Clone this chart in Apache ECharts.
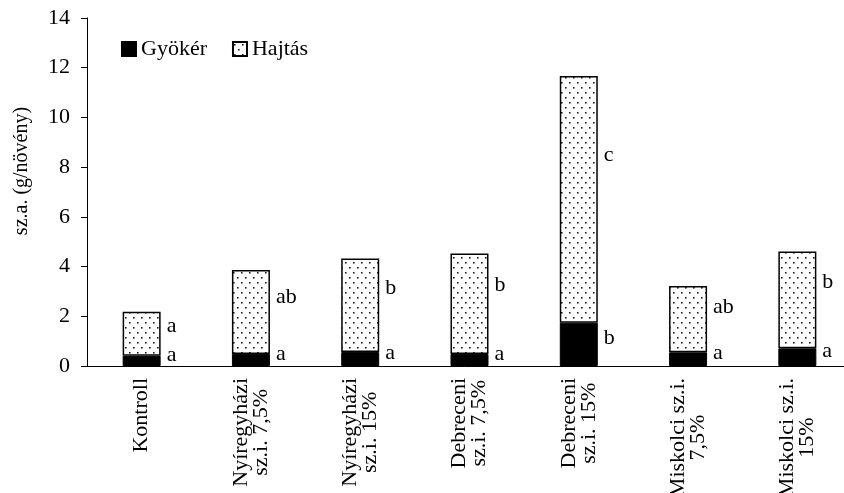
<!DOCTYPE html>
<html>
<head>
<meta charset="utf-8">
<script src="https://cdn.jsdelivr.net/npm/echarts@6/dist/echarts.min.js"></script>
<style>html,body{margin:0;padding:0;background:#fff}#c{width:844px;height:493px}</style>
</head>
<body>
<div id="c"></div>
<script>
const categories = ['Kontroll', 'Nyíregyházi\nsz.i. 7,5%', 'Nyíregyházi\nsz.i. 15%', 'Debreceni\nsz.i. 7,5%', 'Debreceni\nsz.i. 15%', 'Miskolci sz.i.\n7,5%', 'Miskolci sz.i.\n15%'];
const gyoker = [0.41, 0.48, 0.56, 0.48, 1.74, 0.55, 0.71];
const hajtas = [1.77, 3.38, 3.76, 4.05, 9.93, 2.67, 3.90];
const gyokerLetters = ['a', 'a', 'a', 'a', 'b', 'a', 'a'];
const hajtasLetters = ['a', 'ab', 'b', 'b', 'c', 'ab', 'b'];
const yMin = 0, yMax = 14, yInterval = 2;
const seriesNames = ['Gyökér', 'Hajtás'];
const yName = 'sz.a. (g/növény)';

const FONT = '"Liberation Serif", "Times New Roman", serif';

// dotted pattern
const pc = document.createElement('canvas');
pc.width = 8; pc.height = 10;
const g = pc.getContext('2d');
g.fillStyle = '#fff';
g.fillRect(0, 0, 8, 10);
g.fillStyle = '#222';
g.fillRect(1, 2, 1.6, 1.6);
g.fillRect(5, 7, 1.6, 1.6);

const chart = echarts.init(document.getElementById('c'), null, {renderer: 'canvas'});
chart.setOption({
  animation: false,
  backgroundColor: '#fff',
  textStyle: {fontFamily: FONT, color: '#000'},
  grid: {left: 87, top: 18, width: 765, height: 348, containLabel: false, outerBoundsMode: 'none'},
  legend: {
    left: 116, top: 33,
    itemWidth: 14, itemHeight: 14, itemGap: 25,
    icon: 'rect',
    textStyle: {fontFamily: FONT, fontSize: 22, color: '#000'},
    data: seriesNames
  },
  graphic: [{
    type: 'text',
    x: 22, y: 171,
    rotation: Math.PI / 2,
    style: {text: yName, font: '20px ' + FONT, fill: '#000', textAlign: 'center', textVerticalAlign: 'middle'}
  }],
  xAxis: {
    type: 'category',
    data: categories,
    axisLine: {lineStyle: {color: '#000', width: 1}},
    axisTick: {length: 6, lineStyle: {color: '#000'}},
    axisLabel: {
      rotate: 90, margin: 12, color: '#000', fontFamily: FONT, fontSize: 22,
      interval: 0,
      formatter: v => v.split('\n').map(l => '{c|' + l + '}').join('\n'),
      rich: {c: {align: 'center', fontFamily: FONT, fontSize: 22, lineHeight: 20, color: '#000'}}
    }
  },
  yAxis: {
    type: 'value', min: yMin, max: yMax, interval: yInterval,
    axisLine: {show: true, lineStyle: {color: '#000', width: 1}},
    axisTick: {show: true, length: 6, lineStyle: {color: '#000'}},
    splitLine: {show: false},
    axisLabel: {color: '#000', fontFamily: FONT, fontSize: 22, margin: 17}
  },
  series: [
    {
      name: seriesNames[0], type: 'bar', stack: 'a', barWidth: 38,
      data: gyoker,
      itemStyle: {color: '#000', borderColor: '#000', borderWidth: 1},
      label: {
        show: true, position: ['100%', '50%'], offset: [6, -6], align: 'left', verticalAlign: 'middle',
        fontFamily: FONT, fontSize: 22, color: '#000',
        formatter: p => gyokerLetters[p.dataIndex]
      }
    },
    {
      name: seriesNames[1], type: 'bar', stack: 'a', barWidth: 38,
      data: hajtas,
      itemStyle: {color: {image: pc, repeat: 'repeat'}, borderColor: '#000', borderWidth: 1.5},
      label: {
        show: true, position: ['100%', '32%'], offset: [6, 0], align: 'left', verticalAlign: 'middle',
        fontFamily: FONT, fontSize: 22, color: '#000',
        formatter: p => hajtasLetters[p.dataIndex]
      }
    }
  ]
});
</script>
</body>
</html>
